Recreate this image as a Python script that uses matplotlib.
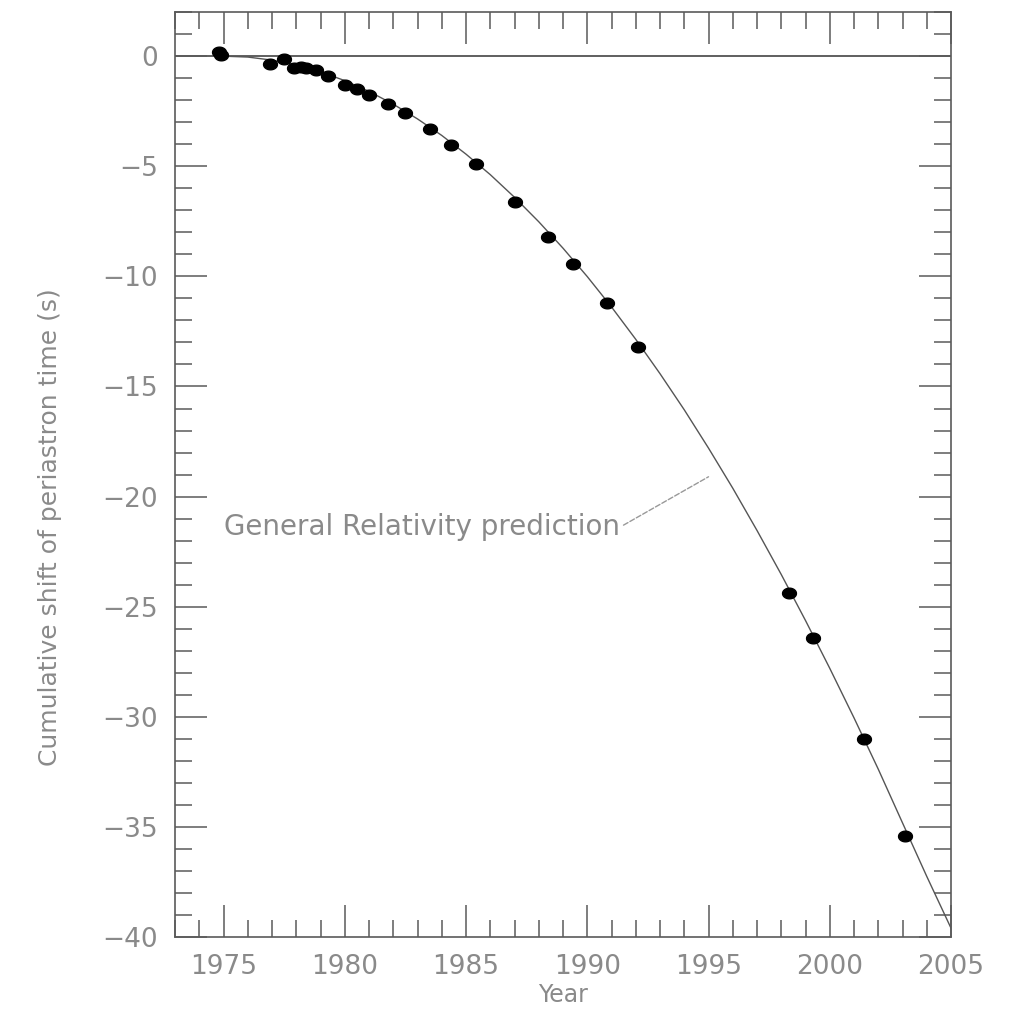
import numpy as np
from matplotlib import pyplot as plt
from matplotlib.path import Path
from matplotlib.ticker import MultipleLocator

# measured periastron shift (s) vs year
obs_year = [1974.8, 1974.9, 1976.9, 1977.5, 1977.9, 1978.2, 1978.4, 1978.8,
            1979.3, 1980.0, 1980.5, 1981.0, 1981.8, 1982.5, 1983.5, 1984.4,
            1985.4, 1987.0, 1988.4, 1989.4, 1990.8, 1992.1, 1998.3, 1999.3,
            2001.4, 2003.1]
obs_shift = [0.2, 0.05, -0.36, -0.12, -0.55, -0.48, -0.55, -0.64,
             -0.9, -1.3, -1.5, -1.77, -2.15, -2.6, -3.3, -4.05,
             -4.9, -6.6, -8.2, -9.45, -11.2, -13.2, -24.4, -26.4,
             -31.0, -35.4]

# GR prediction
gr_year = list(range(1975, 2006))
gr_shift = [0.0, -0.04, -0.18, -0.4, -0.71, -1.11, -1.6, -2.18, -2.85, -3.6,
            -4.45, -5.38, -6.41, -7.52, -8.72, -10.01, -11.39, -12.86, -14.42,
            -16.06, -17.8, -19.62, -21.54, -23.54, -25.63, -27.8, -30.05, -32.38,
            -34.82, -37.25, -39.6]

label_col = '#8a8a8a'
axis_col = '#5a5a5a'

fig = plt.figure(figsize=(10.14, 10.11), dpi=100)
ax = fig.add_axes([0.1726, 0.0732, 0.7653, 0.9148])

ax.axhline(0, color='#444444', lw=1.2, zorder=1)
ax.plot(gr_year, gr_shift, color='#555555', lw=1.0, zorder=2)

# slightly flattened dot, like the original
t = np.linspace(0, 2 * np.pi, 40)
ell = Path(np.column_stack([1.3 * np.cos(t), np.sin(t)]))
ax.plot(obs_year, obs_shift, ls='none', marker=ell, ms=10, color='black', zorder=3)

ax.annotate('General Relativity prediction', xy=(1995.0, -19.1), xytext=(1975.0, -21.4),
            fontsize=20, color=label_col, ha='left', va='center',
            arrowprops=dict(arrowstyle='-', color='#999999', lw=1.0, ls='--',
                            relpos=(1.0, 0.5), shrinkA=1, shrinkB=0))

ax.set_xlim(1973, 2005)
ax.set_ylim(-40, 2)
ax.xaxis.set_major_locator(MultipleLocator(5))
ax.xaxis.set_minor_locator(MultipleLocator(1))
ax.yaxis.set_major_locator(MultipleLocator(5))
ax.yaxis.set_minor_locator(MultipleLocator(1))

ax.tick_params(which='both', direction='in', top=True, right=True,
               color=axis_col, width=1.1, labelcolor=label_col, labelsize=19)
ax.tick_params(which='major', length=23, pad=12)
ax.tick_params(which='minor', length=12)
for s in ax.spines.values():
    s.set_color(axis_col)
    s.set_linewidth(1.2)

ax.set_xlabel('Year', fontsize=17, color=label_col)
ax.set_ylabel('Cumulative shift of periastron time (s)', fontsize=18, color=label_col)
ax.xaxis.set_label_coords(0.5, -0.05)
ax.yaxis.set_label_coords(-0.145, 0.443)

fig.savefig('out.png', dpi=100)
